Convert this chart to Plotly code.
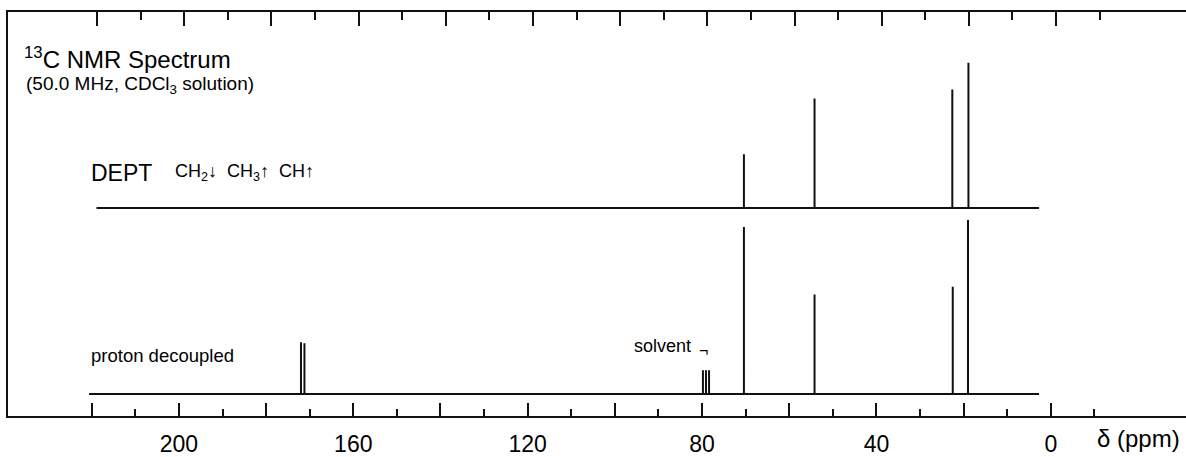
import plotly.graph_objects as go

# ---------------- data ----------------
# axis ticks (ppm)
label_ticks = [200, 160, 120, 80, 40, 0]
label_text = ["200", "160", "120", "80", "40", "0"]
long_unlabelled_ticks = [220, 180, 140, 100, 60, 20]
short_ticks = [210, 190, 170, 150, 130, 110, 90, 70, 50, 30, 10, -10]
all_long_ticks = [220, 200, 180, 160, 140, 120, 100, 80, 60, 40, 20, 0]

# proton-decoupled 13C spectrum: peak positions (ppm) and intensities
pd_ppm = [172.0, 171.2, 79.8, 79.1, 78.4, 70.4, 54.2, 22.5, 19.0]
pd_int = [52, 51, 24, 24, 24, 168, 100, 108, 175]
pd_span = [220.6, 2.7]

# DEPT spectrum: peak positions (ppm) and intensities
dept_ppm = [70.4, 54.2, 22.6, 18.9]
dept_int = [54, 110, 119, 146]
dept_span = [218.9, 2.7]

# ---------------- layout constants ----------------
PD_BASE = 22
DEPT_BASE = 209
FONT = "Liberation Sans, Arial, Helvetica, sans-serif"
INK = "#111111"
X_RANGE = [239.2, -31.0]
X_RANGE_TOP = [240.4, -29.8]


def stick_trace(ppm, inten, span, base):
    xs, ys = [span[0]], [base]
    for p, h in sorted(zip(ppm, inten), reverse=True):
        xs += [p, p, p]
        ys += [base, base + h, base]
    xs.append(span[1])
    ys.append(base)
    return go.Scatter(x=xs, y=ys, mode="lines",
                      line=dict(color=INK, width=2),
                      hoverinfo="skip", showlegend=False)


def hidden(axis, vals):
    return go.Scatter(x=vals, y=[0] * len(vals), xaxis=axis,
                      mode="lines", line=dict(width=0), opacity=0,
                      hoverinfo="skip", showlegend=False)


fig = go.Figure()
fig.add_trace(stick_trace(pd_ppm, pd_int, pd_span, PD_BASE))
fig.add_trace(stick_trace(dept_ppm, dept_int, dept_span, DEPT_BASE))
fig.add_trace(hidden("x2", all_long_ticks))
fig.add_trace(hidden("x3", long_unlabelled_ticks))

W, H = 1186, 457
L, R, T, B = 8, 0, 12, 39
pw, ph = W - L - R, H - T - B


def px(x):
    return (x - L) / pw


def py(y):
    return (H - B - y) / ph


fig.update_layout(
    width=W, height=H,
    margin=dict(l=L, r=R, t=T, b=B),
    plot_bgcolor="white", paper_bgcolor="white",
    showlegend=False,
    font=dict(family=FONT, color="black", size=14),
    xaxis=dict(
        range=X_RANGE, tickmode="array",
        tickvals=label_ticks, ticktext=label_text,
        ticks="inside", ticklen=13, tickwidth=2, tickcolor=INK,
        showline=True, linewidth=2, linecolor=INK,
        showgrid=False, zeroline=False,
        tickfont=dict(size=23, family=FONT, color="black"),
        ticklabelstandoff=6,
        minor=dict(tickmode="array", tickvals=short_ticks, ticks="inside",
                   ticklen=7, tickwidth=2, tickcolor=INK, showgrid=False),
    ),
    xaxis3=dict(
        overlaying="x", side="bottom", anchor="y",
        range=X_RANGE, tickmode="array",
        tickvals=long_unlabelled_ticks, showticklabels=False,
        ticks="inside", ticklen=13, tickwidth=2, tickcolor=INK,
        showline=False, showgrid=False, zeroline=False,
    ),
    xaxis2=dict(
        overlaying="x", side="top", anchor="y",
        range=X_RANGE_TOP, tickmode="array",
        tickvals=all_long_ticks, showticklabels=False,
        ticks="inside", ticklen=14, tickwidth=2, tickcolor=INK,
        showline=True, linewidth=2, linecolor=INK,
        showgrid=False, zeroline=False,
        minor=dict(tickmode="array", tickvals=short_ticks, ticks="inside",
                   ticklen=8, tickwidth=2, tickcolor=INK, showgrid=False),
    ),
    yaxis=dict(
        range=[0, ph], showline=True, linewidth=2, linecolor=INK,
        showticklabels=False, ticks="", showgrid=False, zeroline=False,
    ),
)


def note(text, x, y, size, xanchor="left"):
    fig.add_annotation(text=text, xref="paper", yref="paper",
                       x=px(x), y=py(y), xanchor=xanchor, yanchor="middle",
                       showarrow=False,
                       font=dict(size=size, family=FONT, color="black"))


note("<sup>13</sup>C NMR Spectrum", 22, 58, 24)
note("(50.0 MHz, CDCl<sub>3</sub> solution)", 24, 85, 19)
note("DEPT", 89, 174, 23)
note("CH<sub>2</sub><b>↓</b>  CH<sub>3</sub><b>↑</b>  CH<b>↑</b>", 173, 173, 18)
note("proton decoupled", 89, 357, 18.5)
note("solvent", 632, 348, 18)
note("¬", 697, 352, 16)
note("δ (ppm)", 1138, 441, 24, xanchor="center")

fig.write_html("out.html", config={"displayModeBar": False},
               post_script="document.body.style.margin='0';")
